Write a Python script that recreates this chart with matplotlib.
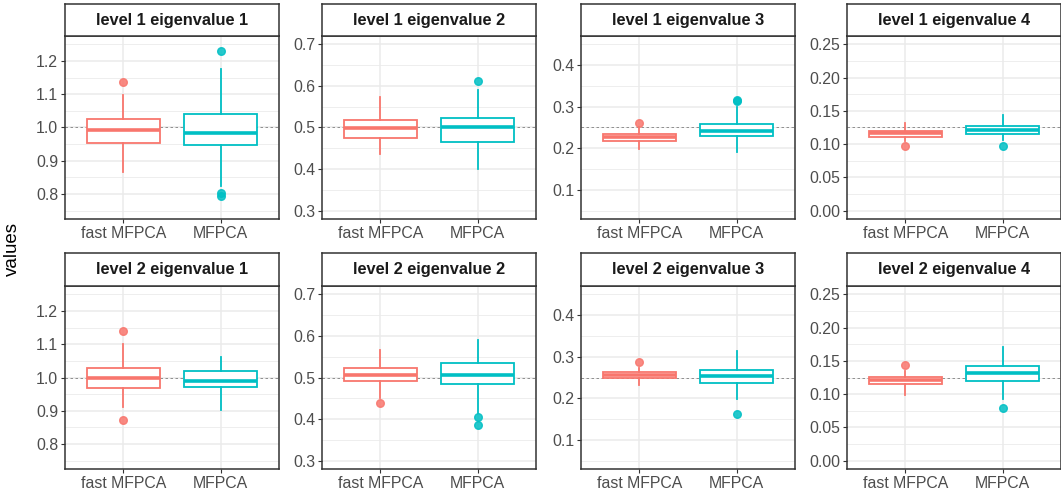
import numpy as np
import matplotlib.pyplot as plt
from matplotlib.ticker import FixedLocator, FormatStrFormatter

plt.rcParams['font.family'] = ['Liberation Sans', 'DejaVu Sans']

# --- dados ---
titulos = ["level 1 eigenvalue 1", "level 1 eigenvalue 2", "level 1 eigenvalue 3", "level 1 eigenvalue 4",
           "level 2 eigenvalue 1", "level 2 eigenvalue 2", "level 2 eigenvalue 3", "level 2 eigenvalue 4"]
metodos = ["fast MFPCA", "MFPCA"]
valores_reais = [1.0, 0.5, 0.25, 0.125, 1.0, 0.5, 0.25, 0.125]

fast_whislo = [0.867, 0.437, 0.199, 0.104, 0.910, 0.451, 0.232, 0.099]
fast_q1 = [0.954, 0.475, 0.218, 0.1105, 0.967, 0.492, 0.249, 0.1145]
fast_med = [0.993, 0.498, 0.226, 0.1165, 0.9975, 0.507, 0.2556, 0.121]
fast_q3 = [1.026, 0.518, 0.234, 0.120, 1.029, 0.523, 0.263, 0.1255]
fast_whishi = [1.098, 0.574, 0.250, 0.1315, 1.100, 0.565, 0.274, 0.1355]
fast_out = [[1.137], [], [0.260], [0.097], [1.140, 0.872], [0.439], [0.288], [0.1436]]

mf_whislo = [0.823, 0.401, 0.190, 0.1065, 0.902, 0.415, 0.198, 0.092]
mf_q1 = [0.947, 0.465, 0.230, 0.1155, 0.970, 0.484, 0.237, 0.119]
mf_med = [0.984, 0.500, 0.242, 0.1215, 0.9895, 0.5056, 0.2532, 0.1325]
mf_q3 = [1.040, 0.522, 0.258, 0.128, 1.0185, 0.534, 0.269, 0.1426]
mf_whishi = [1.176, 0.590, 0.300, 0.1435, 1.061, 0.591, 0.3126, 0.1707]
mf_out = [[1.231, 0.803, 0.793], [0.613], [0.316, 0.314], [0.0975], [], [0.405, 0.386], [0.162], [0.079]]

# limites e ticks por coluna
limites_y = [(0.725, 1.275), (0.28, 0.72), (0.03, 0.47), (-0.0125, 0.2625)]
ticks_maj = [[0.8, 0.9, 1.0, 1.1, 1.2], [0.3, 0.4, 0.5, 0.6, 0.7], [0.1, 0.2, 0.3, 0.4],
             [0.0, 0.05, 0.10, 0.15, 0.20, 0.25]]
ticks_min = [[0.75, 0.85, 0.95, 1.05, 1.15, 1.25], [0.35, 0.45, 0.55, 0.65], [0.05, 0.15, 0.25, 0.35, 0.45],
             [0.025, 0.075, 0.125, 0.175, 0.225]]
formatos = ["%.1f", "%.1f", "%.1f", "%.2f"]

cores = ["#F8766D", "#00BFC4"]

W, H = 1061, 498
fig = plt.figure(figsize=(W / 100, H / 100), dpi=100)

col_esq = [65, 322, 581, 847]
larg = 214
linhas = [(36, 219, 4), (286, 469, 253)]  # topo painel, base painel, topo faixa

for i in range(8):
    lin, col = divmod(i, 4)
    topo, base, topo_faixa = linhas[lin]
    x0 = col_esq[col]
    ax = fig.add_axes([x0 / W, 1 - base / H, larg / W, (base - topo) / H])

    stats = [
        dict(whislo=fast_whislo[i], q1=fast_q1[i], med=fast_med[i], q3=fast_q3[i],
             whishi=fast_whishi[i], fliers=fast_out[i]),
        dict(whislo=mf_whislo[i], q1=mf_q1[i], med=mf_med[i], q3=mf_q3[i],
             whishi=mf_whishi[i], fliers=mf_out[i]),
    ]
    for k in range(2):
        c = cores[k]
        ax.bxp([stats[k]], positions=[k + 1], widths=0.75, showcaps=False, patch_artist=True,
               boxprops=dict(facecolor="white", edgecolor=c, linewidth=1.3),
               medianprops=dict(color=c, linewidth=2.6, solid_capstyle="butt"),
               whiskerprops=dict(color=c, linewidth=1.3),
               flierprops=dict(marker="o", markerfacecolor=c, markeredgecolor=c,
                               markersize=5.5, alpha=0.85),
               zorder=3)

    ax.axhline(valores_reais[i], color="#7f7f7f", linestyle=(0, (3, 3)), linewidth=0.6, zorder=2)

    ax.set_xlim(0.4, 2.6)
    ax.set_ylim(*limites_y[col])
    ax.set_xticks([1, 2])
    ax.set_xticklabels(metodos)
    ax.yaxis.set_major_locator(FixedLocator(ticks_maj[col]))
    ax.yaxis.set_minor_locator(FixedLocator(ticks_min[col]))
    ax.yaxis.set_major_formatter(FormatStrFormatter(formatos[col]))
    ax.tick_params(axis="both", which="major", labelsize=11.4, labelcolor="#4D4D4D",
                   color="#333333", length=3, width=0.8, pad=2)
    ax.tick_params(axis="y", which="minor", length=0)

    ax.grid(True, which="major", color="#EBEBEB", linewidth=1.1, zorder=0)
    ax.grid(True, which="minor", axis="y", color="#EBEBEB", linewidth=0.6, zorder=0)
    ax.set_axisbelow(True)
    for s in ax.spines.values():
        s.set_color("#333333")
        s.set_linewidth(1.1)

    # faixa do título
    axf = fig.add_axes([x0 / W, 1 - topo / H, larg / W, (topo - topo_faixa) / H])
    axf.set_xticks([])
    axf.set_yticks([])
    for s in axf.spines.values():
        s.set_color("#333333")
        s.set_linewidth(1.1)
    axf.text(0.5, 0.5, titulos[i], ha="center", va="center", fontsize=11.8,
             fontweight="bold", color="#1A1A1A", transform=axf.transAxes)

fig.text(12 / W, 0.5, "values", rotation=90, ha="center", va="center", fontsize=13.5, color="black")

fig.savefig("out.png", dpi=100)
